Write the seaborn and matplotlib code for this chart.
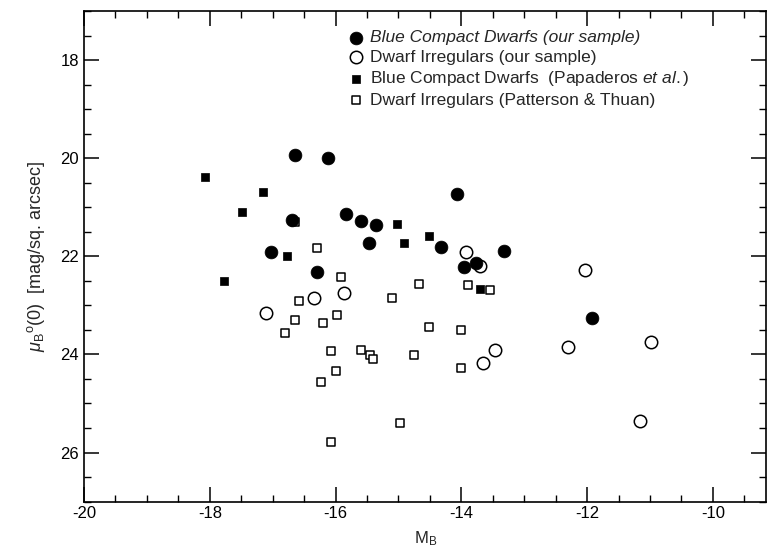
import matplotlib
matplotlib.use('Agg')
import matplotlib.pyplot as plt
import seaborn as sns
import pandas as pd
from matplotlib.ticker import MultipleLocator

# Blue compact dwarfs, our sample (filled circles)
bcd_our_mb = [-16.65, -16.12, -16.70, -17.03, -16.30, -14.07, -15.83, -15.60,
              -15.36, -15.47, -14.32, -13.32, -13.77, -13.96, -11.92]
bcd_our_mu = [19.94, 19.99, 21.26, 21.92, 22.32, 20.72, 21.14, 21.29,
              21.36, 21.72, 21.80, 21.89, 22.14, 22.21, 23.25]

# Dwarf irregulars, our sample (open circles)
di_our_mb = [-16.35, -17.11, -13.93, -13.70, -15.86, -13.47, -13.65, -12.04,
             -12.30, -10.99, -11.16]
di_our_mu = [22.85, 23.16, 21.92, 22.20, 22.74, 23.92, 24.18, 22.28,
             23.85, 23.75, 25.36]

# Blue compact dwarfs, Papaderos et al. (filled squares)
bcd_pap_mb = [-18.07, -17.15, -17.49, -16.77, -17.78, -15.02, -14.91, -14.51, -13.70]
bcd_pap_mu = [20.38, 20.68, 21.10, 21.99, 22.51, 21.35, 21.72, 21.59, 22.66]

# Dwarf irregulars, Patterson & Thuan (open squares)
di_pt_mb = [-16.64, -16.29, -16.58, -16.65, -16.80, -16.20, -16.08, -16.23,
            -16.08, -15.92, -14.68, -15.10, -13.90, -13.55, -15.97, -14.51,
            -14.00, -15.60, -15.46, -15.41, -14.76, -14.00, -16.00, -14.97]
di_pt_mu = [21.31, 21.84, 22.92, 23.29, 23.56, 23.36, 23.94, 24.56,
            25.79, 22.43, 22.57, 22.85, 22.59, 22.68, 23.19, 23.45,
            23.50, 23.92, 24.02, 24.09, 24.02, 24.27, 24.33, 25.40]

sns.set_style("ticks")
plt.rcParams['font.family'] = ['Liberation Sans', 'DejaVu Sans']
plt.rcParams['axes.unicode_minus'] = False
plt.rcParams['mathtext.fontset'] = 'custom'
plt.rcParams['mathtext.rm'] = 'Liberation Sans'
plt.rcParams['mathtext.it'] = 'Liberation Sans:italic'
plt.rcParams['mathtext.bf'] = 'Liberation Sans:bold'

fig = plt.figure(figsize=(7.71, 5.53), dpi=100)
ax = fig.add_axes([0.109, 0.093, 0.885, 0.887])

# open squares first so filled markers sit on top
sns.scatterplot(x=di_pt_mb, y=di_pt_mu, ax=ax, marker='s', s=36,
                facecolor='white', edgecolor='black', linewidth=1.1, zorder=2,
                label='Dwarf Irregulars (Patterson & Thuan)')
sns.scatterplot(x=di_our_mb, y=di_our_mu, ax=ax, marker='o', s=80,
                facecolor='white', edgecolor='black', linewidth=1.1, zorder=3,
                label='Dwarf Irregulars (our sample)')
sns.scatterplot(x=bcd_pap_mb, y=bcd_pap_mu, ax=ax, marker='s', s=40,
                color='black', edgecolor='black', linewidth=0.5, zorder=4,
                label='Blue Compact Dwarfs  (Papaderos $\\mathbf{\\it{et\\ al.}}$)')
sns.scatterplot(x=bcd_our_mb, y=bcd_our_mu, ax=ax, marker='o', s=85,
                color='black', edgecolor='black', linewidth=0.5, zorder=5,
                label='Blue Compact Dwarfs (our sample)')

ax.set_xlim(-20, -9.15)
ax.set_ylim(27, 17)
ax.xaxis.set_major_locator(MultipleLocator(2))
ax.xaxis.set_minor_locator(MultipleLocator(0.5))
ax.yaxis.set_major_locator(MultipleLocator(2))
ax.yaxis.set_minor_locator(MultipleLocator(0.5))
ax.tick_params(which='both', direction='in', top=True, right=True,
               labelsize=12, color='black', labelcolor='black')
ax.tick_params(which='major', length=11, width=1.1)
ax.tick_params(which='minor', length=5, width=1.0)
for sp in ax.spines.values():
    sp.set_linewidth(1.2)
    sp.set_color('black')

ax.set_xlabel('M$_\\mathrm{B}$', fontsize=12, labelpad=6)
ax.set_ylabel('$\\mathit{\\mu}_\\mathrm{B}$$^\\mathrm{o}$(0)  [mag/sq. arcsec]', fontsize=13, labelpad=10)

handles, labels = ax.get_legend_handles_labels()
order = [3, 1, 2, 0]
leg = ax.legend([handles[i] for i in order], [labels[i] for i in order],
                loc='upper left', bbox_to_anchor=(0.373, 0.975), frameon=False,
                fontsize=12.5, handletextpad=0.2, handlelength=1.2,
                labelspacing=0.25, borderaxespad=0)
leg.get_texts()[0].set_fontstyle('italic')

fig.savefig('out.png', dpi=100)
